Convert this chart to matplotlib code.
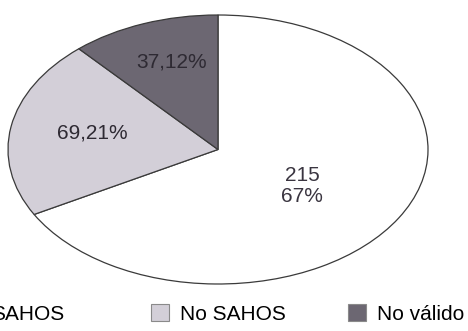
import matplotlib.pyplot as plt
from matplotlib.patches import Patch

plt.rcParams['font.family'] = ['Liberation Sans', 'DejaVu Sans']

categories = ['SAHOS', 'No SAHOS', 'No válido']
counts = [215, 69, 37]
pcts = [67, 21, 12]
colors = ['#ffffff', '#d3cfd8', '#6c6772']

fig = plt.figure(figsize=(4.68, 3.31), dpi=100)
ax = fig.add_axes([8 / 468, (331 - 284) / 331, 420 / 468, 269 / 331])

wedges, _ = ax.pie(counts, colors=colors, startangle=90, counterclock=False,
                   wedgeprops=dict(edgecolor='#3a3a3a', linewidth=0.9))
ax.set_aspect('auto')
ax.set_xlim(-1, 1)
ax.set_ylim(-1, 1)

# labels inside each wedge
ax.text(0.40, -0.27, f"{counts[0]}\n{pcts[0]}%", ha='center', va='center',
        fontsize=15, color='#3a3540', linespacing=1.1)
ax.text(-0.60, 0.12, f"{counts[1]},{pcts[1]}%", ha='center', va='center',
        fontsize=15, color='#2e2a33')
ax.text(-0.22, 0.65, f"{counts[2]},{pcts[2]}%", ha='center', va='center',
        fontsize=15, color='#2e2a33')

# one legend per entry, evenly spaced along the bottom
legend_x = [-38 / 468, 151 / 468, 348 / 468]
for name, col, x in zip(categories, colors, legend_x):
    h = Patch(facecolor=col, edgecolor='#8a8a8a', linewidth=0.8)
    fig.legend([h], [name], loc='center left', bbox_to_anchor=(x, 17 / 331),
               frameon=False, fontsize=15, handlelength=0.85, handleheight=0.85,
               handletextpad=0.55, borderpad=0, borderaxespad=0)

fig.savefig('out.png', dpi=100)
